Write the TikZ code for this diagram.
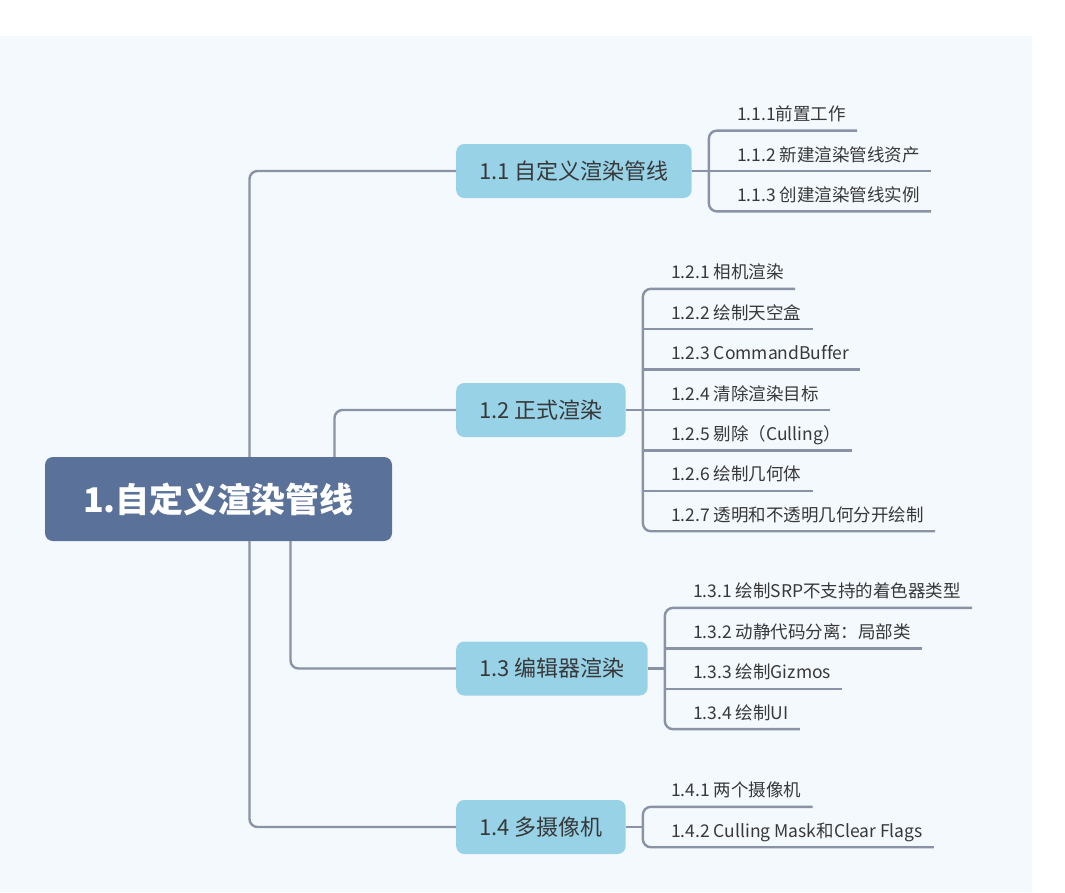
\documentclass[tikz,border=0pt]{standalone}
\usepackage{fontspec}
\setmainfont[Ligatures=NoCommon]{Noto Sans CJK SC}
\usetikzlibrary{calc}

\definecolor{panelbg}{HTML}{F4F9FD}
\definecolor{rootfill}{HTML}{5A7299}
\definecolor{topicfill}{HTML}{97D2E7}
\definecolor{linkgray}{HTML}{8A93A6}
\definecolor{textgray}{HTML}{383838}

\tikzset{
  rootbox/.style={fill=rootfill, rounded corners=8pt, text=white,
    font=\bfseries\fontsize{34}{40}\selectfont,
    minimum width=347pt, minimum height=84pt},
  topic/.style={fill=topicfill, rounded corners=8pt, text=textgray,
    font=\fontsize{22}{26}\selectfont, inner xsep=23pt,
    minimum height=54pt, anchor=west},
  leaf/.style={text=textgray, font=\fontsize{17.5}{21}\selectfont,
    inner sep=0pt, anchor=base west},
  link/.style={draw=linkgray, line width=2.4pt, rounded corners=8pt},
}

\begin{document}
\begin{tikzpicture}[x=1pt,y=-1pt]
    % Canvas and panel
    \useasboundingbox (0,0) rectangle (1065,892);
    \fill[white] (0,0) rectangle (1065,892);
    \fill[panelbg] (0,36) rectangle (1032,892);

    % Root
    \node[rootbox] (root) at (218.5,499) {1.自定义渲染管线};

    % Main topics
    \node[topic] (t1) at (456,171) {1.1 自定义渲染管线};
    \node[topic] (t2) at (456,410) {1.2 正式渲染};
    \node[topic] (t3) at (456,668.5) {1.3 编辑器渲染};
    \node[topic] (t4) at (456,827) {1.4 多摄像机};

    % Root to topics
    \draw[link] ([xshift=31pt]root.north) |- (t1.west);
    \draw[link] ([xshift=116pt]root.north) |- (t2.west);
    \draw[link] ([xshift=72pt]root.south) |- (t3.west);
    \draw[link] ([xshift=31pt]root.south) |- (t4.west);

    % Bracket points
    \coordinate (b1) at ($(t1.east)+(17,0)$);
    \coordinate (b2) at ($(t2.east)+(17,0)$);
    \coordinate (b3) at ($(t3.east)+(17,0)$);
    \coordinate (b4) at ($(t4.east)+(17,0)$);

    % 1.1 leaves
    \node[leaf] (l11) at ($(b1)+(28,-50.4)$) {1.1.1前置工作};
    \node[leaf] (l12) at ($(b1)+(28,-10)$) {1.1.2 新建渲染管线资产};
    \node[leaf] (l13) at ($(b1)+(28,30.4)$) {1.1.3 创建渲染管线实例};

    % 1.2 leaves
    \node[leaf] (l21) at ($(b2)+(28,-131.2)$) {1.2.1 相机渲染};
    \node[leaf] (l22) at ($(b2)+(28,-90.8)$) {1.2.2 绘制天空盒};
    \node[leaf] (l23) at ($(b2)+(28,-50.4)$) {1.2.3 CommandBuffer};
    \node[leaf] (l24) at ($(b2)+(28,-10)$) {1.2.4 清除渲染目标};
    \node[leaf] (l25) at ($(b2)+(28,30.4)$) {1.2.5 剔除（Culling）};
    \node[leaf] (l26) at ($(b2)+(28,70.8)$) {1.2.6 绘制几何体};
    \node[leaf] (l27) at ($(b2)+(28,111.2)$) {1.2.7 透明和不透明几何分开绘制};

    % 1.3 leaves
    \node[leaf] (l31) at ($(b3)+(28,-70.6)$) {1.3.1 绘制SRP不支持的着色器类型};
    \node[leaf] (l32) at ($(b3)+(28,-30.2)$) {1.3.2 动静代码分离：局部类};
    \node[leaf] (l33) at ($(b3)+(28,10.2)$) {1.3.3 绘制Gizmos};
    \node[leaf] (l34) at ($(b3)+(28,50.6)$) {1.3.4 绘制UI};

    % 1.4 leaves
    \node[leaf] (l41) at ($(b4)+(28,-30.2)$) {1.4.1 两个摄像机};
    \node[leaf] (l42) at ($(b4)+(28,10.2)$) {1.4.2 Culling Mask和Clear Flags};

    % Topic to bracket
    \draw[link] (t1.east) -- (b1);
    \draw[link] (t2.east) -- (b2);
    \draw[link] (t3.east) -- (b3);
    \draw[link] (t4.east) -- (b4);

    % Brackets with first and last underline
    \draw[link] ($(l11.base east)+(11,10)$) -| ($(b1 |- l13.base)+(0,10)$) -- ($(l13.base east)+(11,10)$);
    \draw[link] ($(l21.base east)+(11,10)$) -| ($(b2 |- l27.base)+(0,10)$) -- ($(l27.base east)+(11,10)$);
    \draw[link] ($(l31.base east)+(11,10)$) -| ($(b3 |- l34.base)+(0,10)$) -- ($(l34.base east)+(11,10)$);
    \draw[link] ($(l41.base east)+(11,10)$) -| ($(b4 |- l42.base)+(0,10)$) -- ($(l42.base east)+(11,10)$);

    % Middle underlines
    \draw[link] ($(b1 |- l12.base)+(0,10)$) -- ($(l12.base east)+(11,10)$);
    \draw[link] ($(b2 |- l22.base)+(0,10)$) -- ($(l22.base east)+(11,10)$);
    \draw[link] ($(b2 |- l23.base)+(0,10)$) -- ($(l23.base east)+(11,10)$);
    \draw[link] ($(b2 |- l24.base)+(0,10)$) -- ($(l24.base east)+(11,10)$);
    \draw[link] ($(b2 |- l25.base)+(0,10)$) -- ($(l25.base east)+(11,10)$);
    \draw[link] ($(b2 |- l26.base)+(0,10)$) -- ($(l26.base east)+(11,10)$);
    \draw[link] ($(b3 |- l32.base)+(0,10)$) -- ($(l32.base east)+(11,10)$);
    \draw[link] ($(b3 |- l33.base)+(0,10)$) -- ($(l33.base east)+(11,10)$);
\end{tikzpicture}
\end{document}
